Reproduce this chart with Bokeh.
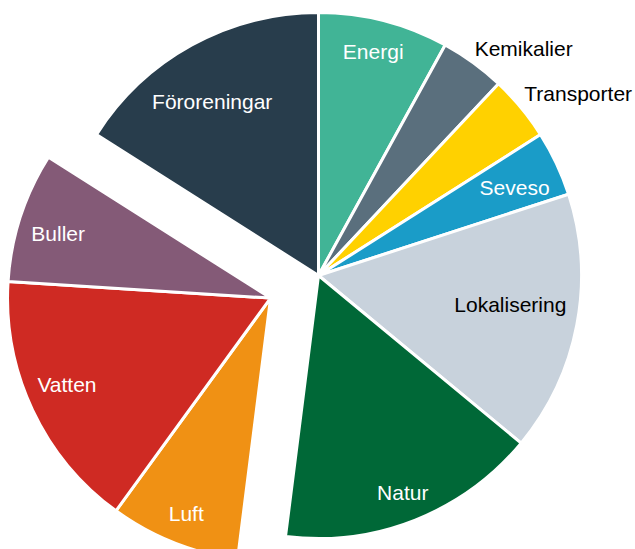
import math
from bokeh.plotting import figure
from bokeh.models import Range1d, ColumnDataSource
from bokeh.core.properties import value
from bokeh.embed import file_html
from bokeh.resources import INLINE

# ---- data ----
categories = ["Energi", "Kemikalier", "Transporter", "Seveso", "Lokalisering",
              "Natur", "Luft", "Vatten", "Buller", "Föroreningar"]
shares = [8, 4, 4, 4, 16, 16, 8, 16, 8, 16]
exploded = [False, False, False, False, False, False, True, True, True, False]

# ---- style / layout ----
colors = ["#41b496", "#5a6f7d", "#ffd100", "#1a9cc8", "#c8d2dc",
          "#006837", "#f09114", "#cf2a23", "#845a77", "#283d4c"]
text_colors = ["white", "black", "black", "white", "black",
               "white", "white", "white", "white", "white"]
label_radius = [231, 306, 317, 215, 194, 233, 231, 221, 222, 204]
label_dtheta = [-0.7, 6.1, 4.6, 1.0, -2.2, 0.4, -0.2, 2.3, -1.1, -2.6]

W, H = 635, 549
CX, CY = 318, H - 275   # pie centre in plot units (y up)
R = 263
EXPLODE = 53

p = figure(width=W, height=H, output_backend="svg", toolbar_location=None,
           x_range=Range1d(0, W), y_range=Range1d(0, H), min_border=0,
           outline_line_color=None)
p.axis.visible = False
p.grid.visible = False
p.background_fill_color = "white"
p.border_fill_color = "white"

total = float(sum(shares))
cum = [0.0]
for s in shares:
    cum.append(cum[-1] + s / total)

# group explosion direction (mid-angle of exploded group)
g_idx = [i for i, e in enumerate(exploded) if e]
g_start = cum[g_idx[0]]
g_end = cum[g_idx[-1] + 1]
g_mid = (g_start + g_end) / 2 * 2 * math.pi
ex_dx = EXPLODE * math.sin(g_mid)
ex_dy = EXPLODE * math.cos(g_mid)

xs, ys, starts, ends, lx, ly = [], [], [], [], [], []
for i, s in enumerate(shares):
    a0 = cum[i] * 2 * math.pi
    a1 = cum[i + 1] * 2 * math.pi
    cx = CX + (ex_dx if exploded[i] else 0)
    cy = CY + (ex_dy if exploded[i] else 0)
    xs.append(cx)
    ys.append(cy)
    starts.append(math.pi / 2 - a1)
    ends.append(math.pi / 2 - a0)
    th = (a0 + a1) / 2 + math.radians(label_dtheta[i])
    lx.append(cx + label_radius[i] * math.sin(th))
    ly.append(cy + label_radius[i] * math.cos(th))

src = ColumnDataSource(dict(x=xs, y=ys, start=starts, end=ends, color=colors,
                            lx=lx, ly=ly, label=categories, tcolor=text_colors))

p.wedge(x="x", y="y", radius=R, radius_units="data", start_angle="start",
        end_angle="end", fill_color="color", line_color="white", line_width=3,
        source=src)

p.text(x="lx", y="ly", text="label", text_color="tcolor", source=src,
       text_font=value("Liberation Sans"), text_font_size="21px",
       text_align="center", text_baseline="middle")

open("out.html", "w").write(file_html(p, INLINE))
